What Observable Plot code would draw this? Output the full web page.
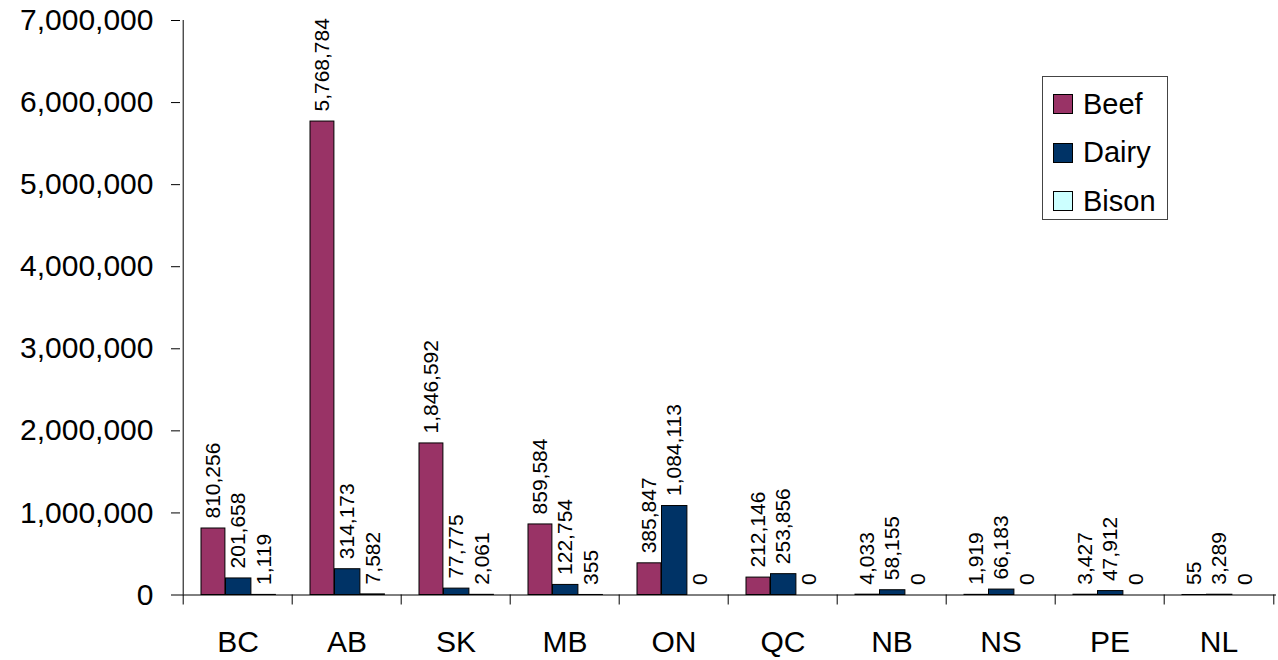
<!DOCTYPE html>
<html>
<head>
<meta charset="utf-8">
<script src="https://cdn.jsdelivr.net/npm/d3@7"></script>
<script src="https://cdn.jsdelivr.net/npm/@observablehq/plot@0.6"></script>
<style>
  body { margin: 0; background: #fff; font-family: "Liberation Sans", Arial, sans-serif; }
  #wrap { position: relative; width: 1278px; height: 660px; }
  .legend { position: absolute; left: 1042px; top: 76px; width: 126px; height: 144px;
            border: 1px solid #444; box-sizing: border-box; background: #fff; }
  .item { position: absolute; left: 10px; height: 20px; display: flex; align-items: center;
          font-size: 29px; color: #000; white-space: nowrap; }
  .sw { width: 20px; height: 20px; border: 1px solid #000; box-sizing: border-box; margin-right: 10px; flex: none; }
</style>
</head>
<body>
<div id="wrap"></div>
<script>
const provinces = ["BC", "AB", "SK", "MB", "ON", "QC", "NB", "NS", "PE", "NL"];
const seriesNames = ["Beef", "Dairy", "Bison"];
const seriesColors = ["#993366", "#003366", "#CCFFFF"];
const beef  = [810256, 5768784, 1846592, 859584, 385847, 212146, 4033, 1919, 3427, 55];
const dairy = [201658, 314173, 77775, 122754, 1084113, 253856, 58155, 66183, 47912, 3289];
const bison = [1119, 7582, 2061, 355, 0, 0, 0, 0, 0, 0];
const yTicks = [0, 1000000, 2000000, 3000000, 4000000, 5000000, 6000000, 7000000];

const seriesValues = {Beef: beef, Dairy: dairy, Bison: bison};
const rows = [];
for (const s of seriesNames) {
  provinces.forEach((p, i) => rows.push({prov: p, series: s, value: seriesValues[s][i]}));
}

const W = 1278, H = 660, mL = 180, mR = 2, mT = 20, mB = 65.5;
const step = (W - mL - mR) / provinces.length;
const plotH = H - mT - mB;
// bar slots within each category band (pixel offsets from band start)
const slots = {Beef: [18, 42.5], Dairy: [42.5, 68.5], Bison: [68.5, 93]};
const fmt = d3.format(",");

const marks = [];
for (const s of seriesNames) {
  const [a, b] = slots[s];
  const sub = rows.filter(d => d.series === s);
  marks.push(Plot.barY(sub, {
    x: "prov", y: "value", fill: "series", stroke: "#000", strokeWidth: 1,
    insetLeft: a, insetRight: step - b
  }));
  marks.push(Plot.text(sub, {
    x: "prov", y: "value", text: d => fmt(d.value), rotate: -90, textAnchor: "start",
    dx: (a + b) / 2 - step / 2, dy: -10, fontSize: 21, fill: "#000"
  }));
}

const chart = Plot.plot({
  width: W, height: H,
  marginLeft: mL, marginRight: mR, marginTop: mT, marginBottom: mB,
  style: {fontFamily: "'Liberation Sans', Arial, sans-serif", color: "#000", background: "#fff"},
  x: {domain: provinces, padding: 0, axis: null, label: null},
  y: {domain: [0, 7000000], axis: null, label: null},
  color: {domain: seriesNames, range: seriesColors},
  marks: [
    ...marks,
    Plot.axisX({tickSize: 0, tickPadding: 36, fontSize: 30, label: null}),
    Plot.axisY({ticks: yTicks, tickSize: 9, tickPadding: 18, tickFormat: d => fmt(d), fontSize: 30, stroke: "#000", label: null}),
    // y axis line
    Plot.ruleX([provinces[0]], {x: d => d, dx: -step / 2, stroke: "#000"}),
    // x axis line
    Plot.ruleY([0], {stroke: "#000"}),
    // category boundary ticks
    Plot.ruleX(provinces, {x: d => d, dx: -step / 2, insetTop: plotH, insetBottom: -10, stroke: "#000"}),
    Plot.ruleX([provinces[provinces.length - 1]], {x: d => d, dx: step / 2, insetTop: plotH, insetBottom: -10, stroke: "#000"})
  ]
});

const wrap = document.getElementById("wrap");
wrap.appendChild(chart);

const legend = document.createElement("div");
legend.className = "legend";
const tops = [17, 65.5, 114];
seriesNames.forEach((s, i) => {
  const it = document.createElement("div");
  it.className = "item";
  it.style.top = tops[i] + "px";
  const sw = document.createElement("div");
  sw.className = "sw";
  sw.style.background = seriesColors[i];
  const lb = document.createElement("span");
  lb.textContent = s;
  it.appendChild(sw);
  it.appendChild(lb);
  legend.appendChild(it);
});
wrap.appendChild(legend);
</script>
</body>
</html>
